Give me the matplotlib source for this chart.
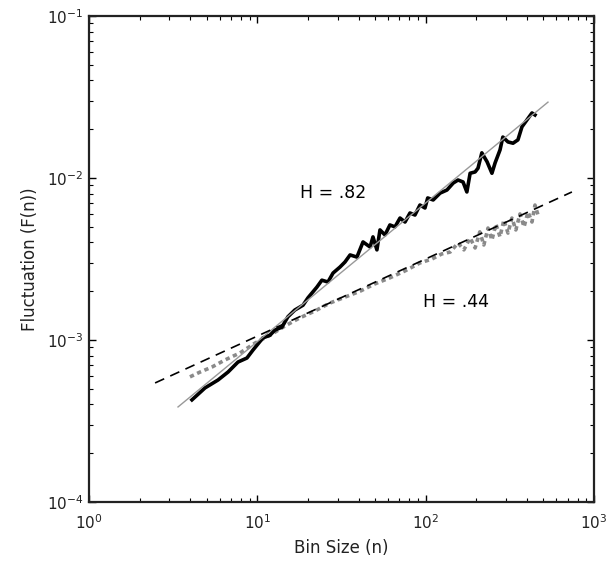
import numpy as np
import matplotlib
matplotlib.use('Agg')
import matplotlib.pyplot as plt

# black curve (H = .82)
n_black = [4.09, 4.89, 5.84, 6.70, 7.68, 8.68, 9.43, 10.8, 11.9, 12.7, 14.0, 15.2, 16.7,
           18.7, 20.0, 22.6, 24.2, 26.3, 28.2, 31.0, 33.2, 35.6, 39.1, 42.5, 46.8, 48.7,
           51.4, 53.6, 57.4, 61.4, 65.8, 70.5, 75.5, 80.8, 86.5, 92.6, 99.2, 103, 111,
           122, 134, 146, 156, 167, 176, 184, 197, 205, 216, 232, 248, 259, 277, 288,
           309, 331, 354, 374, 400, 429, 447]
f_black = [4.27e-4, 5.06e-4, 5.66e-4, 6.34e-4, 7.31e-4, 7.74e-4, 8.67e-4, 1.03e-3, 1.07e-3,
           1.15e-3, 1.20e-3, 1.39e-3, 1.53e-3, 1.64e-3, 1.82e-3, 2.12e-3, 2.34e-3, 2.28e-3,
           2.59e-3, 2.82e-3, 3.03e-3, 3.35e-3, 3.25e-3, 4.03e-3, 3.75e-3, 4.33e-3, 3.60e-3,
           4.78e-3, 4.45e-3, 5.13e-3, 4.99e-3, 5.66e-3, 5.35e-3, 6.08e-3, 5.91e-3, 6.81e-3,
           6.53e-3, 7.53e-3, 7.32e-3, 8.07e-3, 8.43e-3, 9.31e-3, 9.72e-3, 9.45e-3, 8.20e-3,
           1.07e-2, 1.09e-2, 1.15e-2, 1.43e-2, 1.26e-2, 1.07e-2, 1.24e-2, 1.49e-2, 1.79e-2,
           1.67e-2, 1.64e-2, 1.72e-2, 2.07e-2, 2.28e-2, 2.52e-2, 2.45e-2]

# grey curve (H = .44)
n_grey = [3.98, 4.57, 5.38, 6.43, 7.89, 9.69, 11.9, 14.6, 17.9, 22.0, 27.0, 33.2, 40.8,
          50.0, 61.4, 75.5, 92.6, 109, 125, 140, 156, 169, 184, 197, 210, 222, 235, 248,
          262, 277, 292, 309, 326, 344, 364, 385, 406, 429, 447, 466]
f_grey = [5.92e-4, 6.34e-4, 6.81e-4, 7.53e-4, 8.32e-4, 9.57e-4, 1.07e-3, 1.22e-3, 1.37e-3,
          1.51e-3, 1.69e-3, 1.84e-3, 2.00e-3, 2.22e-3, 2.42e-3, 2.67e-3, 2.99e-3, 3.16e-3,
          3.40e-3, 3.49e-3, 3.97e-3, 3.60e-3, 4.27e-3, 3.70e-3, 4.65e-3, 3.86e-3, 4.91e-3,
          4.14e-3, 5.20e-3, 4.33e-3, 5.51e-3, 4.57e-3, 5.66e-3, 4.78e-3, 6.00e-3, 4.99e-3,
          6.17e-3, 5.35e-3, 6.81e-3, 5.91e-3]

# fitted lines (end points)
fit_fast_n = [3.38, 534]
fit_fast_f = [3.86e-4, 2.94e-2]
fit_slow_n = [2.47, 741]
fit_slow_f = [5.43e-4, 8.20e-3]

fig = plt.figure(figsize=(6.16, 5.62), dpi=100)
ax = fig.add_axes([0.1445, 0.1068, 0.8195, 0.8647])

ax.plot(fit_fast_n, fit_fast_f, color='#999999', lw=1.0, zorder=3)
ax.plot(n_black, f_black, color='black', lw=2.6, solid_joinstyle='round', zorder=2)
ax.plot(n_grey, f_grey, color='#8a8a8a', lw=2.6, ls=(0, (1.2, 1.0)), zorder=1)
ax.plot(fit_slow_n, fit_slow_f, color='black', lw=1.2, ls=(0, (6, 4)), zorder=4)

ax.set_xscale('log')
ax.set_yscale('log')
ax.set_xlim(1, 1000)
ax.set_ylim(1e-4, 1e-1)

# annotations placed by pixel position in the figure
fig.text(333 / 616, 1 - 193 / 562, 'H = .82', fontsize=12.5, ha='center', va='center')
fig.text(456 / 616, 1 - 302 / 562, 'H = .44', fontsize=12.5, ha='center', va='center')

ax.set_xlabel('Bin Size (n)', fontsize=12, labelpad=5, color='#222222')
ax.set_ylabel('Fluctuation (F(n))', fontsize=12, labelpad=6, color='#222222')

ax.tick_params(which='both', direction='in', top=True, right=True, labelsize=11,
               labelcolor='#222222')
ax.tick_params(axis='x', which='major', length=5, width=1, pad=8)
ax.tick_params(axis='y', which='major', length=5, width=1, pad=4)
ax.tick_params(which='minor', length=3, width=0.8)
for s in ax.spines.values():
    s.set_linewidth(1.6)
    s.set_color('#222222')

fig.savefig('out.png', dpi=100)
